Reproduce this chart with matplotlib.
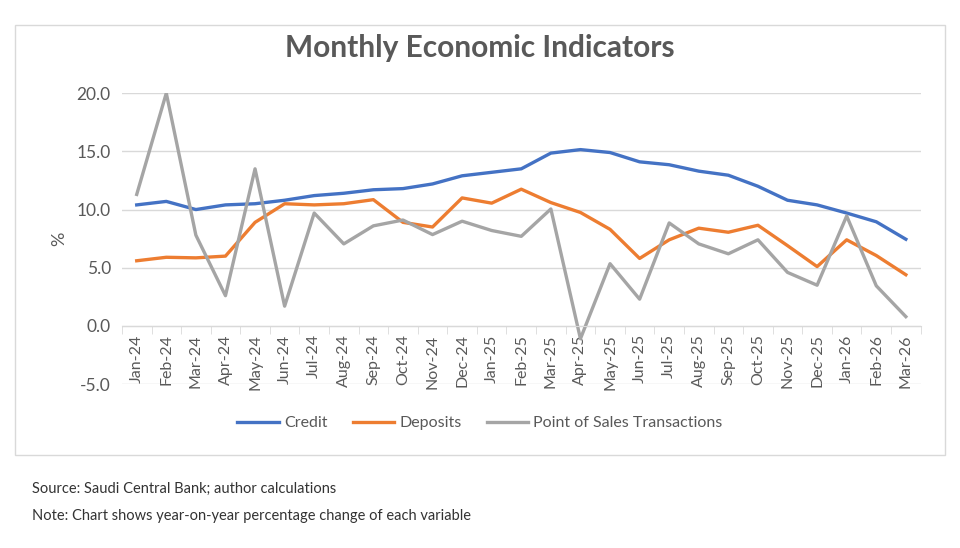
import matplotlib.pyplot as plt
from matplotlib.patches import Rectangle
from matplotlib.ticker import FormatStrFormatter, FixedLocator

plt.rcParams['font.family'] = ['Lato', 'DejaVu Sans']

months = ['Jan-24', 'Feb-24', 'Mar-24', 'Apr-24', 'May-24', 'Jun-24', 'Jul-24',
          'Aug-24', 'Sep-24', 'Oct-24', 'Nov-24', 'Dec-24', 'Jan-25', 'Feb-25',
          'Mar-25', 'Apr-25', 'May-25', 'Jun-25', 'Jul-25', 'Aug-25', 'Sep-25',
          'Oct-25', 'Nov-25', 'Dec-25', 'Jan-26', 'Feb-26', 'Mar-26']

credit = [10.4, 10.7, 10.0, 10.4, 10.5, 10.8, 11.2, 11.4, 11.7, 11.8, 12.2, 12.9,
          13.2, 13.5, 14.85, 15.15, 14.9, 14.1, 13.85, 13.3, 12.95, 12.0, 10.8,
          10.4, 9.7, 8.95, 7.45]
deposits = [5.6, 5.9, 5.85, 6.0, 8.9, 10.5, 10.4, 10.5, 10.85, 8.9, 8.5, 11.0,
            10.55, 11.75, 10.6, 9.75, 8.3, 5.8, 7.4, 8.4, 8.05, 8.65, 6.9, 5.1,
            7.4, 6.05, 4.4]
pos = [11.3, 20.0, 7.8, 2.6, 13.5, 1.7, 9.7, 7.05, 8.6, 9.1, 7.85, 9.0, 8.2,
       7.7, 10.05, -1.1, 5.35, 2.3, 8.85, 7.05, 6.2, 7.4, 4.6, 3.5, 9.45, 3.45, 0.8]

txt = '#595959'
fig = plt.figure(figsize=(9.6, 5.48), dpi=100)

# chart frame
fig.patches.append(Rectangle((15 / 960, 1 - 455 / 548), 930 / 960, 430 / 548,
                             transform=fig.transFigure, fill=False,
                             edgecolor='#d9d9d9', linewidth=1))

ax = fig.add_axes([0.127, 0.299, 0.832, 0.531])
x = range(len(months))
ax.plot(x, credit, color='#4472C4', linewidth=2.4, label='Credit')
ax.plot(x, deposits, color='#ED7D31', linewidth=2.4, label='Deposits')
ax.plot(x, pos, color='#A5A5A5', linewidth=2.4, label='Point of Sales Transactions')

ax.set_xlim(-0.5, len(months) - 0.5)
ax.set_ylim(-5, 20)
ax.set_yticks([-5, 0, 5, 10, 15, 20])
ax.yaxis.set_major_formatter(FormatStrFormatter('%.1f'))
ax.grid(axis='y', color='#d9d9d9', linewidth=1)
ax.set_axisbelow(True)

for s in ['top', 'right', 'left']:
    ax.spines[s].set_visible(False)
ax.spines['bottom'].set_position(('data', 0))
ax.spines['bottom'].set_color('#d9d9d9')

ax.set_xticks(list(x))
ax.set_xticklabels(months, rotation=90, color=txt, fontsize=11.5)
ax.xaxis.set_minor_locator(FixedLocator([i - 0.5 for i in range(len(months) + 1)]))
ax.tick_params(axis='x', which='major', length=0, pad=6)
ax.tick_params(axis='x', which='minor', length=6, color='#d9d9d9')
ax.tick_params(axis='y', length=0, labelsize=12.5, labelcolor=txt, pad=8)
ax.set_ylabel('%', color=txt, fontsize=13, labelpad=7)

fig.text(0.5, 1 - 48 / 548, 'Monthly Economic Indicators', ha='center', va='center',
         fontsize=21.5, fontweight='bold', color=txt)

leg = fig.legend(loc='center', bbox_to_anchor=(0.5, 1 - 423 / 548), ncol=3,
                 frameon=False, fontsize=11.5, handlelength=2.6, columnspacing=1.6,
                 handletextpad=0.3)
for t in leg.get_texts():
    t.set_color(txt)

fig.text(32 / 960, 1 - 489 / 548, 'Source: Saudi Central Bank; author calculations',
         fontsize=10.5, color='#333333', va='center')
fig.text(32 / 960, 1 - 516 / 548, 'Note: Chart shows year-on-year percentage change of each variable',
         fontsize=10.5, color='#333333', va='center')

fig.savefig('out.png', dpi=100)
